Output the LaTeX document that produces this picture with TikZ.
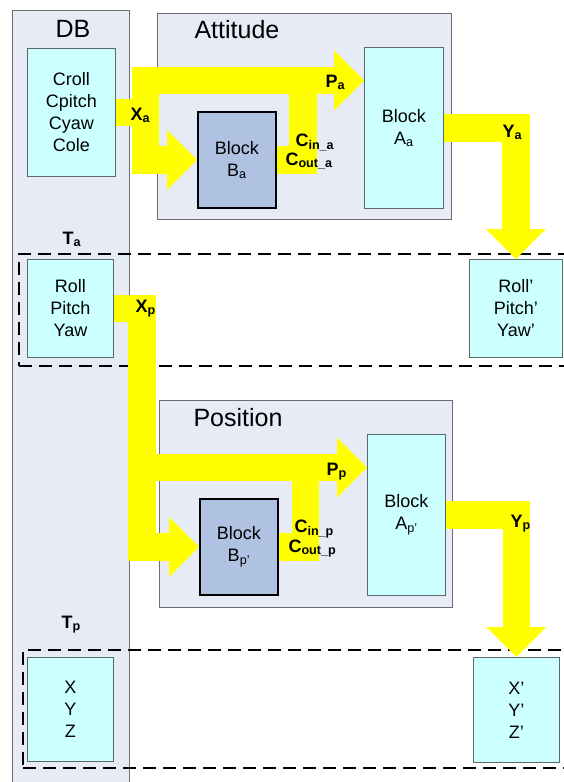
\documentclass[tikz,border=0pt]{standalone}
\usepackage{fontspec}
\setmainfont{Liberation Sans}
\usetikzlibrary{arrows.meta, positioning, calc}
\definecolor{panelfill}{HTML}{E7EBF6}
\definecolor{panelline}{HTML}{6E6E6E}
\definecolor{datacyan}{HTML}{CCFFFF}
\definecolor{dataline}{HTML}{5A6A6A}
\definecolor{blockblue}{HTML}{AFC2E2}
\definecolor{signalyellow}{HTML}{FFFF00}

\begin{document}
\begin{tikzpicture}[
  x=1pt, y=-1pt,
  every node/.style={font=\fontsize{18}{22}\selectfont},
  panel/.style={
    rectangle, anchor=north west, inner sep=0pt,
    draw=panelline, fill=panelfill, line width=1.2pt,
  },
  databox/.style={
    rectangle, anchor=north west, inner sep=0pt,
    align=center, draw=dataline, fill=datacyan, line width=0.9pt,
  },
  blockbox/.style={
    rectangle, anchor=north west, inner sep=0pt,
    align=center, draw=black, fill=blockblue, line width=1.8pt,
  },
  groupframe/.style={
    rectangle, anchor=north west, inner sep=0pt,
    draw=black, line width=2pt, dash pattern=on 13pt off 7pt,
  },
  title/.style={font=\fontsize{25}{30}\selectfont},
  signal/.style={anchor=base west, font=\fontsize{18}{21}\selectfont\bfseries},
  fatline/.style={draw=signalyellow, line width=27.5pt, line join=miter},
  fatarrow/.style={fatline, -{Triangle[length=30pt, width=60pt, line width=0pt]}},
]

\useasboundingbox (0,0) rectangle (564,782);
\clip (0,0) rectangle (564,782);

% panels
\node[panel, minimum width=117pt, minimum height=800pt] (db)  at (12,10)  {};
\node[panel, minimum width=294pt, minimum height=206pt] (att) at (157,13) {};
\node[panel, minimum width=293pt, minimum height=207pt] (pos) at (159,400) {};
\node[title, anchor=base] (dbtitle) at (73,37) {DB};
\node[title, anchor=base west] (atttitle) at (191,38) {Attitude};
\node[title, anchor=base west] (postitle) at (190,426) {Position};

% dashed groups
\node[groupframe, minimum width=600pt, minimum height=112pt] (tagroup) at (18,253) {};
\node[groupframe, minimum width=600pt, minimum height=118pt] (tpgroup) at (22,649) {};

% data boxes
\node[databox, minimum width=88pt, minimum height=128pt] (croll) at (27,48)  {Croll\\Cpitch\\Cyaw\\Cole};
\node[databox, minimum width=86pt, minimum height=98pt]  (rpy)   at (27,259) {Roll\\Pitch\\Yaw};
\node[databox, minimum width=86pt, minimum height=104pt] (xyz)   at (27,657) {X\\Y\\Z};
\node[databox, minimum width=93pt, minimum height=98pt]  (rollp) at (469,259) {Roll’\\Pitch’\\Yaw’};
\node[databox, minimum width=86pt, minimum height=105pt] (xyzp)  at (473,657) {X’\\Y’\\Z’};

% blocks
\node[blockbox, minimum width=78pt, minimum height=96pt]  (bb) at (197,111) {Block\\B\textsubscript{a}};
\node[databox,  minimum width=79pt, minimum height=161pt] (aa) at (364,47)  {Block\\A\textsubscript{a}};
\node[blockbox, minimum width=78pt, minimum height=96pt]  (bp) at (199,498) {Block\\B\textsubscript{p’}};
\node[databox,  minimum width=78pt, minimum height=161pt] (ap) at (367,434) {Block\\A\textsubscript{p’}};

% attitude signals
\coordinate (xa) at (145.5,80.5);
\coordinate (ca) at (303,80.5);
\draw[fatline]  (croll.east) -- (croll.east -| xa);
\draw[fatarrow] (xa) |- (bb.west);
\draw[fatarrow] ([yshift=-14pt]xa) -- (xa) -- (aa.west |- xa);
\draw[fatline]  (bb.east) -| (ca);
\draw[fatarrow] (aa.east) -| (rollp.north);

% position signals
\coordinate (xp) at (142,467.5);
\coordinate (cp) at (305.5,467.5);
\draw[fatarrow] (rpy.east) -| (xp |- bp.west) -- (bp.west);
\draw[fatarrow] ([xshift=-14pt]xp) -- (ap.west |- xp);
\draw[fatline]  (bp.east) -| (cp);
\draw[fatarrow] (ap.east) -| (xyzp.north);

% labels
\node[signal] (lxa)   at (127,120) {X\textsubscript{a}};
\node[signal] (lpa)   at (322,87)  {P\textsubscript{a}};
\node[signal] (lcina) at (292,146) {C\textsubscript{in\_a}};
\node[signal] (lcouta) at (282,165) {C\textsubscript{out\_a}};
\node[signal] (lya)   at (499,137) {Y\textsubscript{a}};
\node[signal] (lta)   at (59,244)  {T\textsubscript{a}};
\node[signal] (lxp)   at (132,312) {X\textsubscript{p}};
\node[signal] (lpp)   at (323,475) {P\textsubscript{p}};
\node[signal] (lcinp) at (291,532) {C\textsubscript{in\_p}};
\node[signal] (lcoutp) at (285,552) {C\textsubscript{out\_p}};
\node[signal] (lyp)   at (507,527) {Y\textsubscript{p}};
\node[signal] (ltp)   at (58,628)  {T\textsubscript{p}};

\end{tikzpicture}
\end{document}
